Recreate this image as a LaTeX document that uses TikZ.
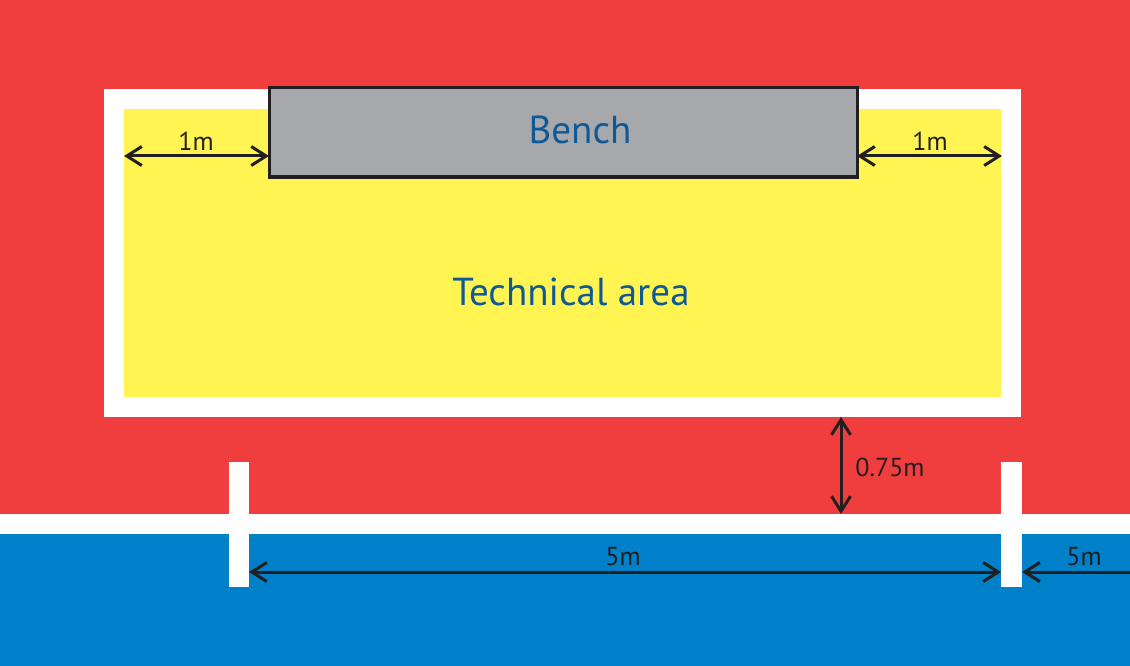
\documentclass[tikz,border=0pt]{standalone}
\usepackage{fontspec}
\setmainfont{PT Sans}
\usetikzlibrary{arrows.meta}
\definecolor{redbg}{HTML}{F03E3F}
\definecolor{yellowbg}{HTML}{FFF451}
\definecolor{bluebg}{HTML}{0080C8}
\definecolor{benchgray}{HTML}{A7A8AB}
\definecolor{darkline}{HTML}{231F20}
\definecolor{textblue}{HTML}{0F5A96}
\tikzset{
  dimarrow/.style={draw=darkline, line width=3pt, {Straight Barb[length=15pt,width=19pt]}-{Straight Barb[length=15pt,width=19pt]}},
  onearrow/.style={draw=darkline, line width=3pt, -{Straight Barb[length=15pt,width=19pt]}},
  dimlabel/.style={text=darkline, font=\fontsize{26}{30}\selectfont, inner sep=0pt},
  biglabel/.style={text=textblue, font=\fontsize{39}{44}\selectfont, inner sep=0pt},
}
\begin{document}
\begin{tikzpicture}[x=1pt,y=-1pt]
\useasboundingbox (0,0) rectangle (1130,666);
% backgrounds
\fill[redbg] (0,0) rectangle (1130,514);
\fill[white] (0,514) rectangle (1130,534);
\fill[bluebg] (0,534) rectangle (1130,666);
% technical area frame
\fill[white] (104,89) rectangle (1021,417);
\fill[yellowbg] (124,109) rectangle (1001,397);
% posts
\fill[white] (229,462) rectangle (249,587);
\fill[white] (1001,462) rectangle (1022,587);
% bench
\draw[darkline, line width=3pt, fill=benchgray] (269,88) rectangle (857,177);
\node[biglabel] (bench) at (580,130) {Bench};
\node[biglabel] (tech) at (571,292) {Technical area};
% coordinates
\coordinate (yl) at (124,156);
\coordinate (bl) at (269,156);
\coordinate (br) at (857,156);
\coordinate (yr) at (1002,156);
\coordinate (ab) at (841,417);
\coordinate (st) at (841,514);
\coordinate (p1) at (249,572);
\coordinate (p2) at (1001,572);
\coordinate (p3) at (1022,572);
\coordinate (edge) at (1131,572);
% arrows
\draw[dimarrow] (yl) -- (bl);
\draw[dimarrow] (br) -- (yr);
\draw[dimarrow] (ab) -- (st);
\draw[dimarrow] (p1) -- (p2);
\draw[onearrow] (edge) -- (p3);
% labels
\node[dimlabel] (l1) at (196,141) {1m};
\node[dimlabel] (l2) at (930,141) {1m};
\node[dimlabel] (l3) at (890,467) {0.75m};
\node[dimlabel] (l4) at (623,557) {5m};
\node[dimlabel] (l5) at (1084,557) {5m};
\end{tikzpicture}
\end{document}
